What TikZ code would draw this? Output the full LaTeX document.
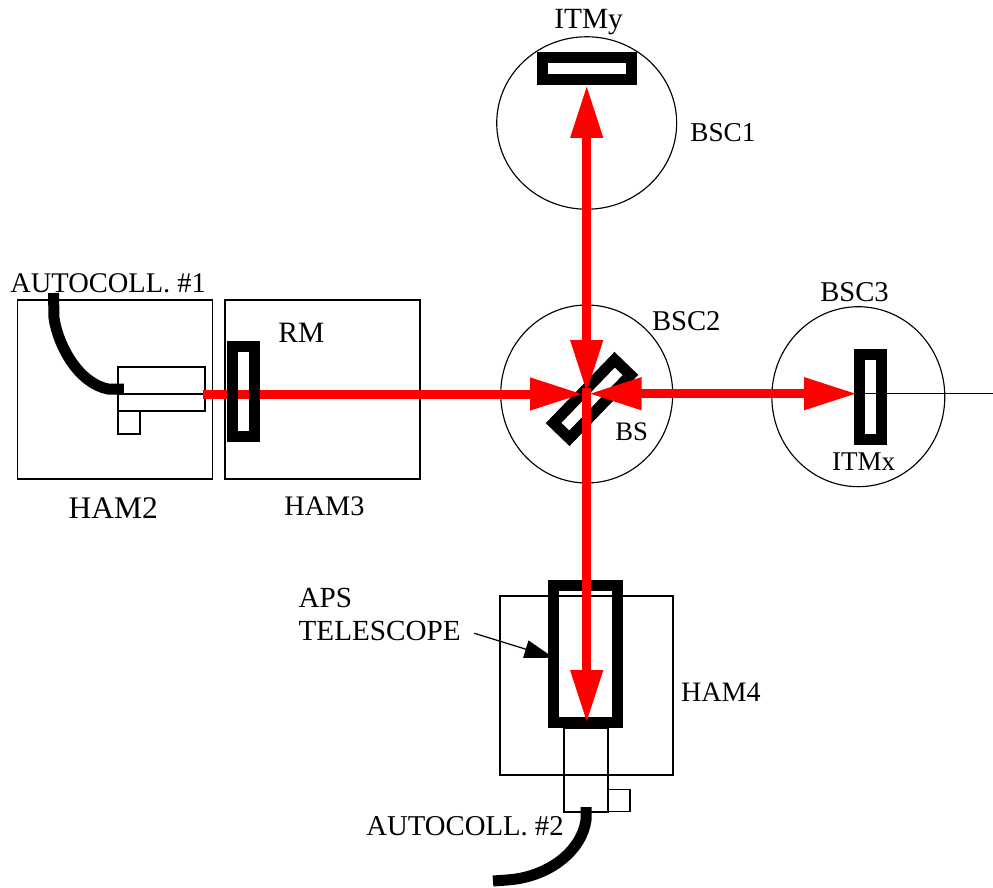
\documentclass[tikz,border=0pt]{standalone}
\usepackage{fontspec}
\setmainfont{Liberation Serif}
\usetikzlibrary{arrows.meta,shapes.geometric}

\tikzset{
  box/.style={rectangle, draw, line width=0.75pt, inner sep=0pt, outer sep=0pt},
  chamber/.style={ellipse, draw, line width=0.65pt, inner sep=0pt, outer sep=0pt},
  optic/.style={rectangle, draw, line width=0.22cm, inner sep=0pt, outer sep=0pt},
  lbl/.style={inner sep=0pt, anchor=base west, align=left, font=\fontsize{#1}{19}\selectfont},
  fiber/.style={line width=0.22cm},
  beam/.style={draw=red, line width=0.18cm},
  beamtip/.style={beam, -{Triangle[length=1.06cm, width=0.61cm, color=red]}},
  beamboth/.style={beam, {Triangle[length=1.06cm, width=0.61cm, color=red]}-{Triangle[length=1.06cm, width=0.61cm, color=red]}}
}

\begin{document}
\begin{tikzpicture}[x=0.02cm, y=-0.02cm]
\useasboundingbox (0,0) rectangle (993,888);

% Vacuum chambers
\node[chamber, minimum width=3.6cm, minimum height=3.45cm] (bscone) at (586.7,123) {};
\node[chamber, minimum width=3.44cm, minimum height=3.56cm] (bsctwo) at (586.7,394) {};
\node[chamber, minimum width=3.46cm, minimum height=3.6cm] (bscthree) at (858.3,396.7) {};
\node[box, minimum width=3.9cm, minimum height=3.58cm] (hamtwo) at (115.2,389.5) {};
\node[box, minimum width=3.9cm, minimum height=3.58cm] (hamthree) at (322.5,389.5) {};
\node[box, minimum width=3.46cm, minimum height=3.58cm] (hamfour) at (586.5,685.5) {};

% Autocollimators
\node[box, minimum width=1.74cm, minimum height=0.88cm] (collone) at (161.4,389) {};
\node[box, minimum width=0.44cm, minimum height=0.46cm] (collonesm) at (129,422.5) {};
\node[box, minimum width=0.88cm, minimum height=1.68cm] (colltwo) at (586,770) {};
\node[box, minimum width=0.44cm, minimum height=0.44cm] (colltwosm) at (619,800.7) {};
\draw[line width=0.75pt] (collone.west |- 0,394) -- (collone.east |- 0,394);

% Optics below the beam
\node[optic, minimum width=1.78cm, minimum height=0.44cm] (itmy) at (587,68.2) {};
\node[optic, minimum width=0.44cm, minimum height=1.72cm] (itmx) at (870,397) {};
\node[optic, minimum width=1.76cm, minimum height=0.44cm, rotate=46] (bs) at (592,399) {};
\node[optic, minimum width=1.28cm, minimum height=2.74cm] (aps) at (585.5,653.8) {};

% Beam points
\coordinate (bsleft) at (583,394);
\coordinate (bsright) at (588.7,393.7);
\coordinate (bstop) at (586.7,393);
\coordinate (bsstart) at (586.7,388);
\coordinate (rmin) at (203,394);
\coordinate (itmxtip) at (857,393.7);
\coordinate (itmytip) at (586.7,85);
\coordinate (apstip) at (586.7,723);
\coordinate (lineend) at (993,393.7);

% Beam
\draw[line width=0.75pt] (itmxtip) -- (lineend);
\draw[beamtip] (rmin) -- (bsleft);
\draw[beamboth] (bsright) -- (itmxtip);
\draw[beamboth] (bstop) -- (itmytip);
\draw[beamtip] (bsstart) -- (apstip);

% Recycling mirror sits over the beam
\node[optic, minimum width=0.44cm, minimum height=1.8cm] (rm) at (243.3,391.3) {};

% Fibers
\coordinate (fibone) at (53.5,293);
\coordinate (fibtwo) at (493,881);
\draw[fiber] (fibone) -- (54,318) .. controls (58,345) and (78,383) .. (108,389) -- (collone.west |- 0,389) -- ++(6,0);
\draw[fiber] (colltwo.south |- 0,807) -- ++(0,13) .. controls (582,850) and (550,877) .. (507,880) -- (fibtwo);

% Pointer
\coordinate (apsfrom) at (474.3,633.3);
\draw[-{Triangle[length=0.58cm, width=0.36cm]}, line width=0.7pt] (apsfrom) -- (aps.west |- 0,657.7);

% Labels
\node[lbl=16.7] (itmylbl) at (554,29) {ITMy};
\node[lbl=15.5] (bsconelbl) at (690,141.7) {BSC1};
\node[lbl=16.3] (bsctwolbl) at (651.7,330) {BSC2};
\node[lbl=16.3] (bscthreelbl) at (820,301) {BSC3};
\node[lbl=15.2] (bslbl) at (615,440.7) {BS};
\node[lbl=15.4] (itmxlbl) at (831.7,470) {ITMx};
\node[lbl=16.8] (rmlbl) at (278,342.7) {RM};
\node[lbl=17.9] (hamtwolbl) at (68.3,518.3) {HAM2};
\node[lbl=16.1] (hamthreelbl) at (284,515) {HAM3};
\node[lbl=16] (hamfourlbl) at (680.7,701.7) {HAM4};
\node[lbl=16.6] (apslbl) at (298.3,640.7) {APS\\TELESCOPE};
\node[lbl=16.2] (collonelbl) at (10,292.3) {AUTOCOLL. \#1};
\node[lbl=16.35] (colltwolbl) at (366,835) {AUTOCOLL. \#2};

\end{tikzpicture}
\end{document}
